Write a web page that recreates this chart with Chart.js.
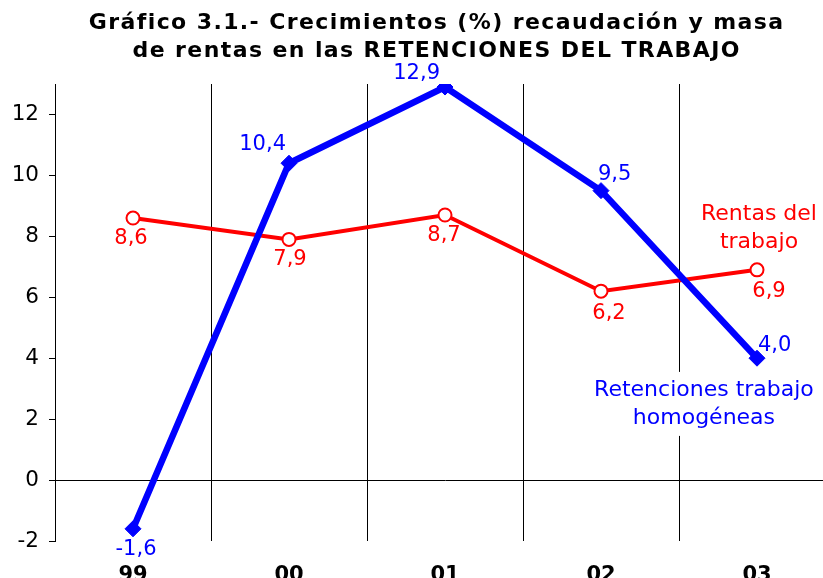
<!DOCTYPE html>
<html>
<head>
<meta charset="utf-8">
<script src="https://cdn.jsdelivr.net/npm/chart.js@4.4.1/dist/chart.umd.min.js"></script>
<style>
html, body { margin: 0; padding: 0; background: #fff; overflow: hidden; }
#wrap { width: 823px; height: 578px; overflow: hidden; }
canvas { display: block; }
</style>
</head>
<body>
<div id="wrap"><canvas id="chart" width="872" height="578"></canvas></div>
<script>
const years = ['99', '00', '01', '02', '03'];
const retenciones = [-1.6, 10.4, 12.9, 9.5, 4.0];
const rentas = [8.6, 7.9, 8.7, 6.2, 6.9];
const yTicks = [-2, 0, 2, 4, 6, 8, 10, 12];
const titleLines = ['Gráfico 3.1.- Crecimientos (%) recaudación y masa', 'de rentas en las RETENCIONES DEL TRABAJO'];
const rentasNote = ['Rentas del', 'trabajo'];
const retencionesNote = ['Retenciones trabajo', 'homogéneas'];

const BLUE = '#0000ff';
const RED = '#ff0000';
const FONT = '"DejaVu Sans", Verdana, sans-serif';

// desplazamiento de las etiquetas respecto al punto: [dx, dy, alineacion]
const blueLabelPos = [[3, 21, 'center'], [-3, -19, 'right'], [-5, -13, 'right'], [-3, -16, 'left'], [1, -13, 'left']];
const redLabelPos = [[-2, 20, 'center'], [1, 20, 'center'], [-1, 21, 'center'], [8, 22, 'center'], [12, 22, 'center']];

const fmt = v => v.toFixed(1).replace('.', ',');

// titulo con espaciado entre letras (el plugin de titulo no lo admite)
const titlePlugin = {
    id: 'spacedTitle',
    afterDraw(chart) {
        const ctx = chart.ctx;
        ctx.save();
        ctx.font = 'bold 22px ' + FONT;
        ctx.letterSpacing = '1.4px';
        ctx.fillStyle = '#000';
        ctx.textAlign = 'center';
        ctx.textBaseline = 'middle';
        titleLines.forEach((t, i) => ctx.fillText(t, chart.width / 2 + 0.7, 23.5 + i * 28));
        ctx.restore();
    }
};

const labelPlugin = {
    id: 'valueLabels',
    afterDatasetsDraw(chart) {
        const ctx = chart.ctx;
        const xs = chart.scales.x;
        const ys = chart.scales.y;
        ctx.save();
        ctx.font = '21px ' + FONT;
        ctx.textBaseline = 'middle';

        // etiquetas de valores
        const series = [[retenciones, blueLabelPos, BLUE], [rentas, redLabelPos, RED]];
        series.forEach(([vals, pos, color]) => {
            ctx.fillStyle = color;
            vals.forEach((v, i) => {
                const px = xs.getPixelForValue(i);
                const py = ys.getPixelForValue(v);
                ctx.textAlign = pos[i][2];
                ctx.fillText(fmt(v), px + pos[i][0], py + pos[i][1]);
            });
        });

        // rotulos de las series
        ctx.font = '22px ' + FONT;
        ctx.textAlign = 'center';
        const lh = 28;

        let cx = xs.getPixelForValue(4) + 2;
        let cy = ys.getPixelForValue(8.27);
        ctx.fillStyle = RED;
        rentasNote.forEach((t, i) => ctx.fillText(t, cx, cy + (i - 0.5) * lh));

        cx = xs.getPixelForValue(3) + 0.66 * (xs.getPixelForValue(4) - xs.getPixelForValue(3));
        cy = ys.getPixelForValue(2.5);
        const w = Math.max(...retencionesNote.map(t => ctx.measureText(t).width)) + 6;
        ctx.fillStyle = '#fff';
        ctx.fillRect(cx - w / 2, cy - lh - 4, w, lh * 2 + 8);
        ctx.fillStyle = BLUE;
        retencionesNote.forEach((t, i) => ctx.fillText(t, cx, cy + (i - 0.5) * lh));
        ctx.restore();
    }
};

new Chart(document.getElementById('chart'), {
    type: 'line',
    data: {
        labels: years,
        datasets: [{
            label: 'Retenciones trabajo homogéneas',
            data: retenciones,
            borderColor: BLUE,
            backgroundColor: BLUE,
            borderWidth: 6.5,
            pointStyle: 'rectRot',
            pointRadius: 8,
            pointBorderWidth: 1,
            pointBackgroundColor: BLUE,
            pointBorderColor: BLUE,
            tension: 0
        }, {
            label: 'Rentas del trabajo',
            data: rentas,
            borderColor: RED,
            backgroundColor: '#fff',
            borderWidth: 4,
            pointStyle: 'circle',
            pointRadius: 6.5,
            pointBorderWidth: 2,
            pointBackgroundColor: '#fff',
            pointBorderColor: RED,
            tension: 0
        }]
    },
    options: {
        responsive: false,
        animation: false,
        layout: { padding: { top: 84, right: 37, left: 0, bottom: 0 } },
        plugins: {
            legend: { display: false },
            tooltip: { enabled: false },
            title: { display: false }
        },
        scales: {
            x: {
                offset: true,
                border: { display: false },
                grid: { offset: true, color: '#000', lineWidth: 1, drawTicks: false },
                ticks: { color: '#000', padding: 22, font: { family: FONT, size: 21, weight: 'bold' } },
                afterFit: s => { s.height = 37; }
            },
            y: {
                min: -2,
                max: 13,
                border: { display: true, color: '#000', width: 1 },
                grid: {
                    color: c => (c.tick && c.tick.value === 0 ? '#000' : 'rgba(0,0,0,0)'),
                    tickColor: '#000',
                    tickLength: 6,
                    lineWidth: 1
                },
                ticks: { color: '#000', padding: 10, font: { family: FONT, size: 21.5 } },
                afterBuildTicks: s => { s.ticks = yTicks.map(v => ({ value: v })); },
                afterFit: s => { s.width = 55; }
            }
        }
    },
    plugins: [labelPlugin, titlePlugin]
});
</script>
</body>
</html>
